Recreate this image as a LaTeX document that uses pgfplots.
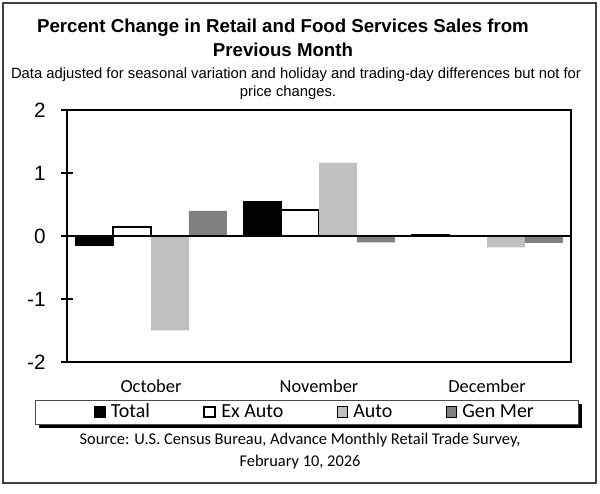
\documentclass[border=0pt]{standalone}
\usepackage{pgfplots}
\pgfplotsset{compat=1.18}
\usepackage{fontspec}
\setmainfont{Liberation Sans}
\newfontfamily\calfont{Carlito}

\definecolor{autogray}{HTML}{C0C0C0}
\definecolor{genmer}{HTML}{808080}

\begin{document}
\begin{tikzpicture}
\begin{scope}[x=0.75pt,y=0.75pt]
% page and frame (image pixels, y measured from the bottom)
\path[fill=white] (0,0) rectangle (600,493);
\draw[line width=1.1pt, black!75] (3,10) rectangle (596,490);

\node[font=\fontsize{14}{16}\selectfont\bfseries] at (283,465) {Percent Change in Retail and Food Services Sales from};
\node[font=\fontsize{14}{16}\selectfont\bfseries] at (283,443) {Previous Month};
\node[font=\fontsize{11.1}{13}\selectfont] at (296,418) {Data adjusted for seasonal variation and holiday and trading-day differences but not for};
\node[font=\fontsize{11.1}{13}\selectfont] at (288,400) {price changes.};

% legend frame with shadow
\fill[black] (39,65) rectangle (582,89);
\draw[draw=black!70, fill=white, line width=0.6pt] (35,69) rectangle (578,93);

\node[font=\calfont\fontsize{12.3}{14}\selectfont] at (300,53) {Source: U.S. Census Bureau, Advance Monthly Retail Trade Survey,};
\node[font=\calfont\fontsize{12.3}{14}\selectfont] at (300,31) {February 10, 2026};
\end{scope}

\begin{axis}[
    at={(50.25pt,98.25pt)}, anchor=south west,
    scale only axis,
    width=378pt, height=189pt,
    xmin=-0.5, xmax=2.5,
    ymin=-2, ymax=2,
    ybar, bar width=0.226,
    axis line style={line width=1.5pt},
    xtick={0,1,2},
    xticklabels={October,November,December},
    xticklabel style={font=\calfont\fontsize{13.8}{15}\selectfont, yshift=-5.5pt},
    major x tick style={draw=none},
    ytick={-2,-1,0,1,2},
    yticklabels={-2,-1,0,1,2},
    yticklabel style={font=\fontsize{15.5}{17}\selectfont, xshift=-8pt},
    ytick pos=left,
    tick align=center,
    major tick length=9pt,
    major y tick style={line width=1.2pt, black},
    legend columns=4,
    legend style={draw=none, fill=none,
        at={(0.493,-0.198)}, anchor=center,
        font=\calfont\fontsize{15}{17}\selectfont,
        /tikz/every odd column/.append style={column sep=2pt},
        /tikz/every even column/.append style={column sep=38pt}},
    legend image code/.code={\draw[#1] (0pt,-4pt) rectangle (8pt,4pt);},
]
\addplot[fill=black, draw=black, bar shift=-0.339] coordinates {
    (0, -0.15)
    (1,  0.55)
    (2,  0.03)
};
\addlegendentry{Total}
\addplot[fill=white, draw=black, line width=1.5pt, bar shift=-0.113] coordinates {
    (0,  0.15)
    (1,  0.42)
    (2,  0.00)
};
\addlegendentry{Ex Auto}
\addplot[fill=autogray, draw=none, bar shift=0.113] coordinates {
    (0, -1.50)
    (1,  1.16)
    (2, -0.18)
};
\addlegendentry{Auto}
\addplot[fill=genmer, draw=none, bar shift=0.339] coordinates {
    (0,  0.40)
    (1, -0.10)
    (2, -0.11)
};
\addlegendentry{Gen Mer}
\draw[line width=1.5pt, black] (axis cs:-0.5,0) -- (axis cs:2.5,0);
\end{axis}
\end{tikzpicture}
\end{document}
